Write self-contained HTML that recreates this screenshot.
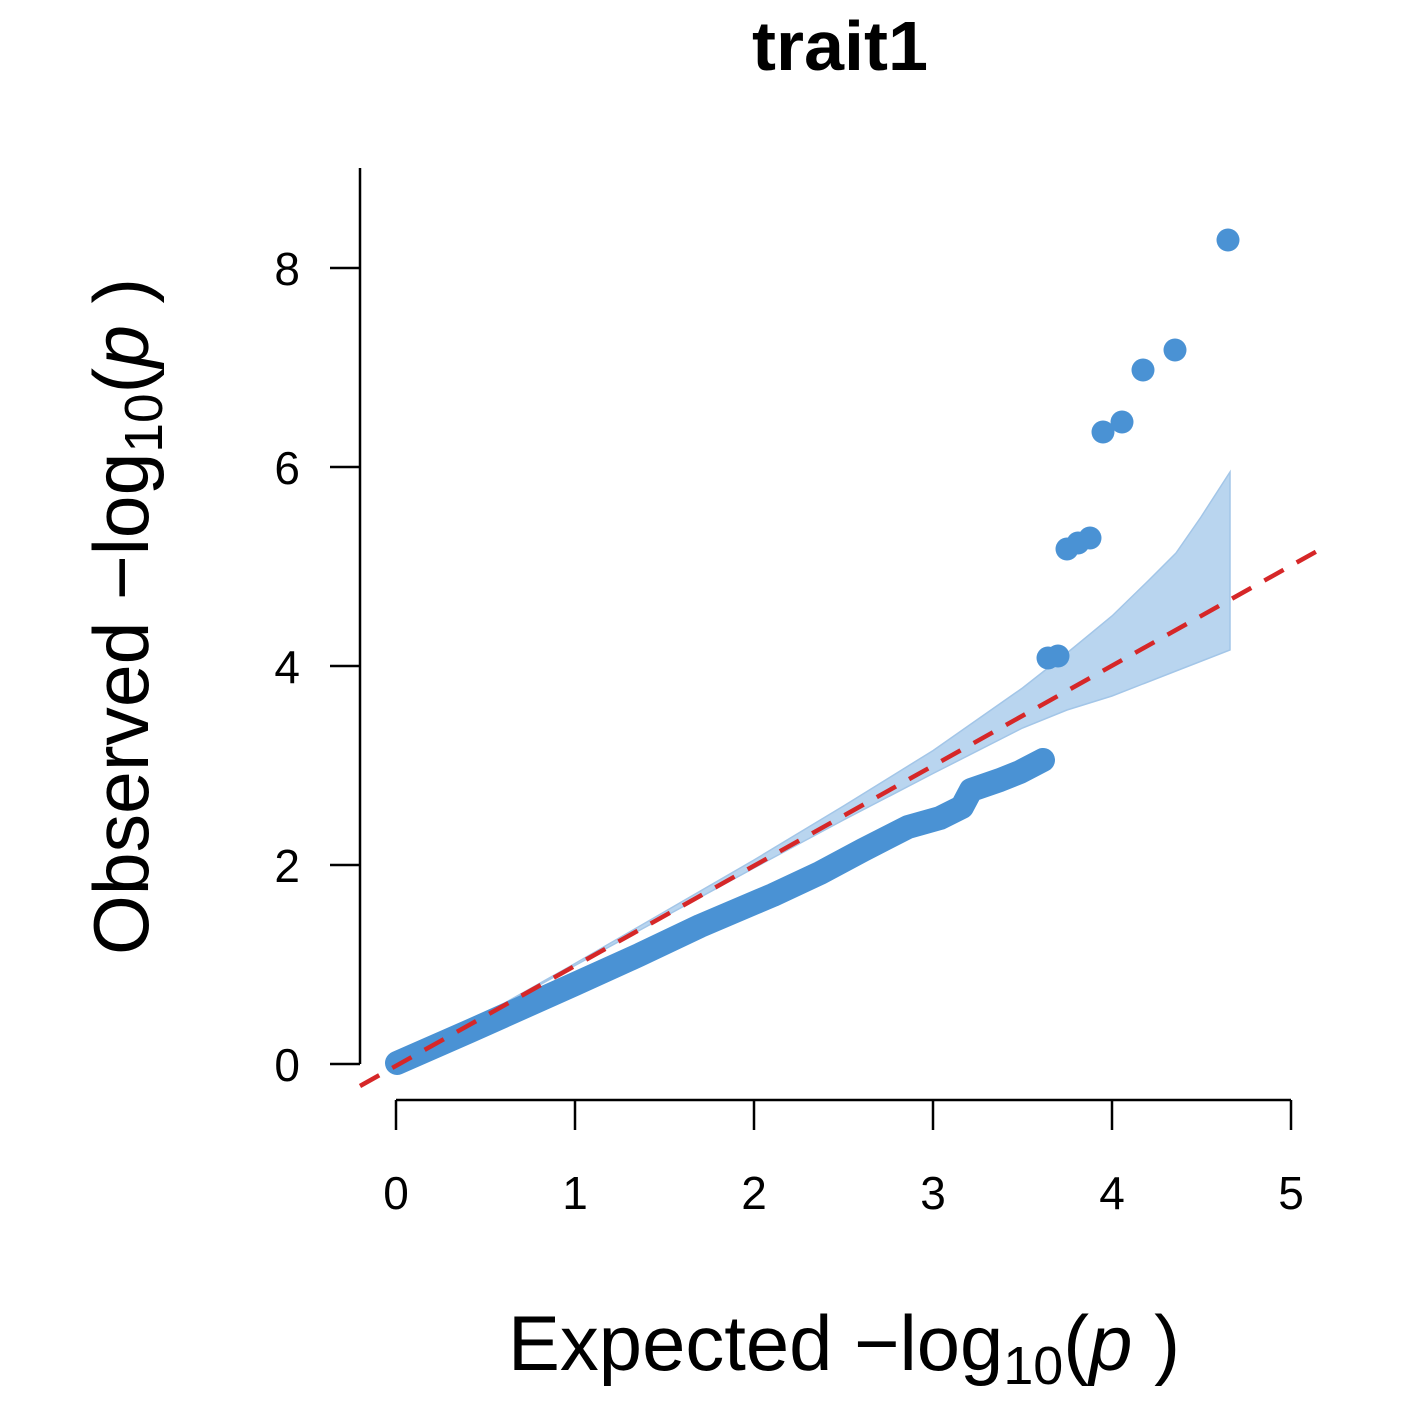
<!DOCTYPE html>
<html><head><style>
body{margin:0;background:#fff}
svg{display:block}
text{font-family:"Liberation Sans",sans-serif;fill:#000}
</style></head><body>
<svg width="1412" height="1412" viewBox="0 0 1412 1412">
<text x="840" y="70" font-size="70" font-weight="bold" text-anchor="middle" textLength="176" lengthAdjust="spacingAndGlyphs">trait1</text>
<path d="M396,1064 L575,963.5 L754,860 L843.5,806 L933,750.6 L1022.5,688 L1067,653 L1112,616 L1148,581 L1176,553 L1201,517 L1230,472 L1230,650 L1176,671 L1112,696 L1067,710 L1022.5,728 L933,773.5 L843.5,820 L754,868 L575,965.5 Z" fill="#b9d5ef" stroke="#a3c6e8" stroke-width="1.5"/>
<polyline points="397,1063 470,1031 575,984 639,955 700,926 754,903 773,895 820,873 863,850 908,827 940,818 962,807 971,790 1000,780 1020,772 1043,760" fill="none" stroke="#4a92d4" stroke-width="24" stroke-linecap="round" stroke-linejoin="round"/>
<g fill="#4a92d4">
<circle cx="1048" cy="658" r="11.5"/><circle cx="1058" cy="656" r="11.5"/>
<circle cx="1067" cy="549" r="11.5"/><circle cx="1078" cy="543" r="11.5"/><circle cx="1090" cy="538" r="11.5"/>
<circle cx="1103" cy="432" r="11.5"/><circle cx="1122" cy="422" r="11.5"/>
<circle cx="1143" cy="370" r="11.5"/><circle cx="1175" cy="350" r="11.5"/>
<circle cx="1228" cy="240" r="11.5"/>
</g>
<line x1="360" y1="1086" x2="1328" y2="545" stroke="#d62728" stroke-width="4.5" stroke-dasharray="22,15"/>
<g stroke="#000" stroke-width="2.5" fill="none">
<line x1="360" y1="168" x2="360" y2="1064"/>
<line x1="330" y1="1064" x2="360" y2="1064"/>
<line x1="330" y1="865" x2="360" y2="865"/>
<line x1="330" y1="666" x2="360" y2="666"/>
<line x1="330" y1="467" x2="360" y2="467"/>
<line x1="330" y1="268" x2="360" y2="268"/>
<line x1="396" y1="1100" x2="1291" y2="1100"/>
<line x1="396" y1="1100" x2="396" y2="1130"/>
<line x1="575" y1="1100" x2="575" y2="1130"/>
<line x1="754" y1="1100" x2="754" y2="1130"/>
<line x1="933" y1="1100" x2="933" y2="1130"/>
<line x1="1112" y1="1100" x2="1112" y2="1130"/>
<line x1="1291" y1="1100" x2="1291" y2="1130"/>
</g>
<g font-size="46" text-anchor="end">
<text x="300" y="1081">0</text><text x="300" y="882">2</text><text x="300" y="683">4</text><text x="300" y="484">6</text><text x="300" y="285">8</text>
</g>
<g font-size="46" text-anchor="middle">
<text x="396" y="1209">0</text><text x="575" y="1209">1</text><text x="754" y="1209">2</text><text x="933" y="1209">3</text><text x="1112" y="1209">4</text><text x="1291" y="1209">5</text>
</g>
<text x="508" y="1370" font-size="78" textLength="672" lengthAdjust="spacingAndGlyphs">Expected  −log<tspan font-size="54" dy="14">10</tspan><tspan dy="-14">(</tspan><tspan font-style="italic">p</tspan> )</text>
<text transform="translate(148,955) rotate(-90)" font-size="78" textLength="677" lengthAdjust="spacingAndGlyphs">Observed  −log<tspan font-size="54" dy="14">10</tspan><tspan dy="-14">(</tspan><tspan font-style="italic">p</tspan> )</text>
</svg>
</body></html>
